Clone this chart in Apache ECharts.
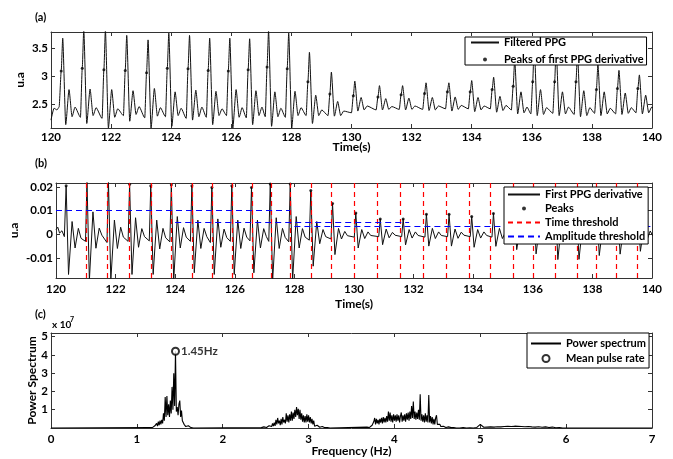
<!DOCTYPE html>
<html>
<head>
<meta charset="utf-8">
<script src="https://cdn.jsdelivr.net/npm/echarts@6/dist/echarts.min.js"></script>
<style>
  html, body { margin: 0; padding: 0; background: #fff; }
  #chart { width: 673px; height: 459px; }
</style>
</head>
<body>
<div id="chart"></div>
<script>
// ---------- (a) filtered PPG, one entry per beat ----------
// time of the first-derivative peak of each beat (s)
const beatTimes = [120.34, 121.04, 121.76, 122.47, 123.18, 123.87, 124.56, 125.23, 125.90, 126.56,
  127.19, 127.86, 128.55, 129.28, 130.06, 130.88, 131.65, 132.43, 133.19, 133.95,
  134.68, 135.38, 136.03, 136.76, 137.47, 138.15, 138.85, 139.53];
const ppgLead = [[120, 2.22], [120.1, 2.43], [120.2, 2.4], [120.27, 2.45]];
const ppgDot = [3.09, 3.14, 3.11, 3.1, 3.06, 3.14, 3.13, 3.1, 3.09, 3.11, 3.16, 3.13, 2.9, 2.68,
  2.65, 2.63, 2.67, 2.69, 2.72, 2.72, 2.76, 2.82, 2.9, 2.9, 2.9, 2.76, 2.78, 2.78];
const ppgPeak = [3.67, 3.82, 3.82, 3.72, 3.64, 3.76, 3.72, 3.67, 3.67, 3.66, 3.8, 3.76, 3.42, 3.07,
  2.91, 2.83, 2.83, 2.88, 2.88, 2.92, 2.98, 3.29, 3.55, 3.5, 3.4, 3.2, 3.1, 3.02];
const ppgDip = [2.14, 2.16, 2.08, 2.2, 2.08, 2.11, 2.22, 2.14, 2.08, 2.14, 2.11, 2.08, 2.16, 2.29,
  2.38, 2.4, 2.4, 2.39, 2.38, 2.37, 2.36, 2.33, 2.3, 2.3, 2.28, 2.3, 2.32, 2.33];
const ppgSecond = [2.76, 2.77, 2.76, 2.74, 2.78, 2.72, 2.75, 2.73, 2.76, 2.74, 2.72, 2.73, 2.66, 2.55,
  2.62, 2.6, 2.61, 2.62, 2.63, 2.62, 2.64, 2.72, 2.76, 2.72, 2.74, 2.72, 2.7, 2.66];
const ppgNotch = [2.28, 2.3, 2.27, 2.32, 2.29, 2.3, 2.28, 2.3, 2.27, 2.3, 2.28, 2.3, 2.3, 2.3,
  2.4, 2.41, 2.41, 2.4, 2.41, 2.4, 2.39, 2.35, 2.32, 2.33, 2.3, 2.33, 2.34, 2.35];
const ppgBump = [2.45, 2.44, 2.42, 2.46, 2.44, 2.43, 2.45, 2.42, 2.44, 2.45, 2.43, 2.44, 2.4, 2.38,
  2.47, 2.46, 2.47, 2.47, 2.48, 2.47, 2.48, 2.45, 2.44, 2.45, 2.44, 2.43, 2.44, 2.45];
const ppgFoot = [2.27, 2.25, 2.3, 2.26, 2.28, 2.25, 2.27, 2.3, 2.26, 2.28, 2.27, 2.3, 2.3, 2.35,
  2.4, 2.41, 2.41, 2.42, 2.42, 2.42, 2.4, 2.33, 2.34, 2.32, 2.34, 2.33, 2.35, 2.38];
const ppgTicks = [2.5, 3, 3.5];

// ---------- (b) first PPG derivative ----------
const derLead = [[120, 0.002], [120.06, 0.003], [120.12, 0.0005], [120.2, 0.0015], [120.28, -0.001]];
const derPeak = [0.0205, 0.0225, 0.0225, 0.0212, 0.0205, 0.021, 0.0205, 0.0198, 0.0205, 0.0198,
  0.0213, 0.0213, 0.0185, 0.013, 0.009, 0.0065, 0.0065, 0.0085, 0.0085, 0.0075, 0.0088,
  0.011, 0.014, 0.013, 0.012, 0.011, 0.0095, 0.009];
const derTrough = [-0.017, -0.0195, -0.0195, -0.017, -0.017, -0.0195, -0.0163, -0.017, -0.017, -0.0163,
  -0.0195, -0.0195, -0.0135, -0.0086, -0.0058, -0.0044, -0.0045, -0.005, -0.005, -0.0055, -0.0051,
  -0.0065, -0.0083, -0.0107, -0.0106, -0.009, -0.0084, -0.0072];
const derRebound = [0.0054, 0.0095, 0.006, 0.007, 0.006, 0.0075, 0.006, 0.0065, 0.006, 0.006, 0.007,
  0.0075, 0.0054, 0.0025, 0.002, 0.0022, 0.002, 0.0025, 0.0022, 0.002, 0.0025, 0.003, 0.0035,
  0.004, 0.0038, 0.0035, 0.003, 0.003];
const derDip = [-0.0058, -0.0059, -0.006, -0.0055, -0.0062, -0.0058, -0.006, -0.0055, -0.006, -0.0058,
  -0.006, -0.0058, -0.004, -0.002, -0.0018, -0.0015, -0.0016, -0.0018, -0.0017, -0.0016, -0.0018,
  -0.0025, -0.003, -0.0032, -0.003, -0.003, -0.0028, -0.0025];
const derWiggle = [0.0025, 0.0026, 0.003, 0.0024, 0.0025, 0.0028, 0.0025, 0.0022, 0.0026, 0.0024,
  0.0025, 0.0024, 0.002, 0.0012, 0.001, 0.0008, 0.001, 0.001, 0.0009, 0.001, 0.0011, 0.0015,
  0.0016, 0.0018, 0.0017, 0.0016, 0.0015, 0.0014];
const derLate = [-0.0017, -0.0004, -0.0012, -0.001, -0.0015, -0.0012, -0.001, -0.0014, -0.0012, -0.001,
  -0.0013, -0.0012, -0.001, -0.0006, -0.0005, -0.0004, -0.0005, -0.0005, -0.0004, -0.0005, -0.0006,
  -0.0008, -0.001, -0.001, -0.0009, -0.0008, -0.0008, -0.0007];
const derPre = [-0.003, -0.0035, -0.003, -0.0028, -0.0032, -0.003, -0.0035, -0.003, -0.0028, -0.003,
  -0.0032, -0.0025, -0.002, -0.0012, -0.001, -0.001, -0.0012, -0.001, -0.001, -0.0012, -0.0015,
  -0.002, -0.0022, -0.002, -0.002, -0.0018, -0.0018, -0.0015];
const timeThreshold = [121.03, 121.71, 122.45, 123.18, 123.87, 124.56, 125.25, 125.92, 126.58, 127.22,
  127.86, 128.55, 129.25, 130.02, 130.78, 131.55, 132.31, 133.11, 133.87, 134.57, 135.34,
  136.02, 136.77, 137.5, 138.14, 138.8, 139.51];
const ampStart = [120, 124.0, 128.0];
const ampEnd = [127.86, 131.85, 140];
const ampLevel = [0.0101, 0.005, 0.0033];
const derTicks = [-0.01, 0, 0.01, 0.02];

// ---------- (c) power spectrum (x 10^7) ----------
const specStep = 0.01;
const spec1Start = 1.15;
const spec1 = [0.03, 0.01, 0.05, 0.02, 0.08, 0.03, 0.12, 0.05, 0.25, 0.1, 0.35, 0.15, 0.4, 0.2, 0.45,
  0.25, 0.8, 0.4, 1.7, 0.6, 1.75, 0.7, 1.3, 0.6, 1.5, 0.8, 2.25, 1.0, 3.0, 1.2, 4.2, 0.9, 1.15, 0.7,
  1.3, 1.5, 0.6, 0.95, 0.4, 0.5, 0.2, 0.2, 0.08, 0.15, 0.05, 0.12, 0.04, 0.08, 0.02, 0.05, 0.01, 0];
const spec2Start = 2.45;
const spec2 = [0.02, 0.04, 0.02, 0.06, 0.03, 0.08, 0.03, 0.1, 0.04, 0.12, 0.05, 0.2, 0.08, 0.25, 0.1,
  0.3, 0.12, 0.45, 0.2, 0.55, 0.25, 0.4, 0.15, 0.5, 0.2, 0.6, 0.3, 0.45, 0.25, 0.8, 0.35, 0.7, 0.3,
  0.75, 0.4, 0.9, 0.4, 0.85, 0.5, 1.0, 0.6, 1.15, 0.7, 1.05, 0.5, 1.0, 0.45, 0.8, 0.35, 0.7, 0.3,
  0.65, 0.3, 0.75, 0.35, 0.7, 0.3, 0.6, 0.25, 0.5, 0.2, 0.4, 0.1, 0.2, 0.08, 0.15, 0.05, 0.12, 0.04,
  0.1, 0.03, 0.08, 0.02, 0.06, 0.02, 0.05, 0.01, 0.03, 0.01, 0.02, 0];
const spec3Start = 3.68;
const spec3 = [0.05, 0.02, 0.08, 0.03, 0.1, 0.04, 0.15, 0.06, 0.35, 0.55, 0.2, 0.5, 0.25, 0.45, 0.2,
  0.5, 0.3, 0.55, 0.25, 0.6, 0.3, 0.55, 0.3, 0.65, 0.35, 0.9, 0.4, 0.85, 0.35, 0.7, 0.3, 0.75, 0.4,
  0.7, 0.35, 0.75, 0.4, 0.7, 0.3, 0.65, 0.85, 0.35, 0.7, 0.4, 0.75, 0.35, 0.8, 0.45, 0.85, 0.4, 0.9,
  0.5, 1.2, 0.55, 1.45, 0.5, 0.9, 0.45, 0.85, 0.5, 1.0, 0.45, 1.85, 0.4, 0.75, 0.35, 0.7, 0.3, 0.8,
  0.35, 0.7, 0.3, 1.8, 0.3, 0.65, 0.25, 0.6, 0.2, 0.5, 0.2, 0.55, 0.7, 0.2, 0.3, 0.1, 0.2, 0.08, 0.15,
  0.05, 0.1, 0.04, 0.08, 0.03, 0.07, 0.03, 0.06, 0.02, 0.05, 0.02, 0.04, 0.01, 0.03, 0.01, 0.02, 0];
const specTailStart = 4.76;
const specTailStep = 0.04;
const specTail = [0, 0.02, 0, 0.01, 0, 0.03, 0.2, 0.04, 0.05, 0.06, 0.05, 0.07, 0.06, 0.08, 0.1, 0.08,
  0.1, 0.09, 0.08, 0.07, 0.08, 0.06, 0.05, 0.07, 0.04, 0.06, 0.03, 0.05, 0.01, 0.02, 0, 0];
const meanRate = [1.45, 4.2];
const specTicks = [1, 2, 3, 4, 5];

// ---------- build point lists ----------
const ppgData = ppgLead.slice();
const derData = derLead.slice();
beatTimes.forEach((t, i) => {
  const next = i + 1 < beatTimes.length ? beatTimes[i + 1] : t + 0.7;
  ppgData.push([t, ppgDot[i]], [t + 0.05, ppgPeak[i]], [t + 0.15, ppgDip[i]],
    [t + 0.26, ppgSecond[i]], [t + 0.36, ppgNotch[i]], [t + 0.46, ppgBump[i]], [next - 0.06, ppgFoot[i]]);
  derData.push([t, derPeak[i]], [t + 0.08, derTrough[i]], [t + 0.2, derRebound[i]],
    [t + 0.3, derDip[i]], [t + 0.41, derWiggle[i]], [t + 0.5, derLate[i]], [next - 0.05, derPre[i]]);
});
const specData = [[0, 0]];
[[spec1Start, spec1], [spec2Start, spec2], [spec3Start, spec3]].forEach(([f0, vals]) => {
  vals.forEach((v, i) => specData.push([f0 + i * specStep, v]));
});
specTail.forEach((v, i) => specData.push([specTailStart + i * specTailStep, v]));
specData.push([7, 0]);

// ---------- chart ----------
const FONT = 'Lato, "DejaVu Sans", sans-serif';
const tickLabel = { fontFamily: FONT, fontSize: 11.5, fontWeight: 'bold', color: '#000' };
const frame = { show: true, onZero: false, lineStyle: { color: '#333', width: 1 } };
const tick = { show: true, inside: true, length: 4, lineStyle: { color: '#333' } };

function xPair(gi, min, max, interval, name, nameGap, margin) {
  const base = { gridIndex: gi, type: 'value', min, max, interval, axisLine: frame, axisTick: tick,
    splitLine: { show: false } };
  return [
    Object.assign({}, base, { position: 'bottom', name, nameLocation: 'middle', nameGap,
      nameMoveOverlap: false,
      nameTextStyle: Object.assign({}, tickLabel, { fontSize: 12 }),
      axisLabel: Object.assign({ margin }, tickLabel) }),
    Object.assign({}, base, { position: 'top', axisLabel: { show: false } })
  ];
}
function yPair(gi, min, max, ticks, name, nameGap) {
  const base = { gridIndex: gi, type: 'value', min, max, axisLine: frame,
    axisTick: Object.assign({ customValues: ticks }, tick), splitLine: { show: false } };
  return [
    Object.assign({}, base, { position: 'left', name, nameLocation: 'middle', nameGap,
      nameMoveOverlap: false,
      nameTextStyle: Object.assign({}, tickLabel, { fontSize: 12 }),
      axisLabel: Object.assign({ margin: 3, customValues: ticks }, tickLabel) }),
    Object.assign({}, base, { position: 'right', axisLabel: { show: false } })
  ];
}
const legendBase = {
  orient: 'vertical', backgroundColor: '#fff', borderColor: '#000', borderWidth: 1, borderRadius: 0,
  selectedMode: false, itemHeight: 4, z: 10,
  textStyle: { fontFamily: FONT, fontSize: 11, fontWeight: 'bold', color: '#000' }
};
// line entries: hide the marker that ECharts puts in the middle of a line icon
const lineEntry = name => ({ name, itemStyle: { opacity: 0 } });

const option = {
  animation: false,
  backgroundColor: '#fff',
  grid: [
    { left: 51, top: 32, width: 601, height: 96 },
    { left: 51, top: 183, width: 601, height: 95 },
    { left: 51, top: 333, width: 601, height: 95 }
  ],
  xAxis: [].concat(
    xPair(0, 120, 140, 2, 'Time(s)', 13, 3),
    xPair(1, 120, 140, 2, 'Time(s)', 20, 5),
    xPair(2, 0, 7, 1, 'Frequency (Hz)', 17, 5)
  ),
  yAxis: [].concat(
    yPair(0, 2.08, 3.78, ppgTicks, 'u.a', 25),
    yPair(1, -0.0185, 0.0217, derTicks, 'u.a', 36),
    yPair(2, 0, 5.2, specTicks, 'Power Spectrum', 13)
  ),
  legend: [
    Object.assign({}, legendBase, { left: 465, top: 37, padding: [0, 3, 0, 5], itemGap: 6, itemWidth: 28,
      data: [lineEntry('Filtered PPG'), 'Peaks of first PPG derivative'] }),
    Object.assign({}, legendBase, { left: 504, top: 187, padding: [2, 3, 2, 3], itemGap: 3, itemWidth: 32,
      data: [lineEntry('First PPG derivative'), 'Peaks', lineEntry('Time threshold'), lineEntry('Amplitude threshold')] }),
    Object.assign({}, legendBase, { left: 527, top: 333, padding: [5, 3, 4, 3], itemGap: 4, itemWidth: 30,
      itemHeight: 7, data: [lineEntry('Power spectrum'), 'Mean pulse rate'] })
  ],
  graphic: [
    { type: 'text', left: 35, top: 12, style: { text: '(a)', font: 'bold 11px ' + FONT, fill: '#000' } },
    { type: 'text', left: 35, top: 158, style: { text: '(b)', font: 'bold 11px ' + FONT, fill: '#000' } },
    { type: 'text', left: 35, top: 309, style: { text: '(c)', font: 'bold 11px ' + FONT, fill: '#000' } },
    { type: 'text', left: 52, top: 320, style: { text: 'x 10', font: 'bold 10px ' + FONT, fill: '#000' } },
    { type: 'text', left: 70, top: 316, style: { text: '7', font: 'bold 7px ' + FONT, fill: '#000' } }
  ],
  series: [
    { name: 'Filtered PPG', type: 'line', xAxisIndex: 0, yAxisIndex: 0, data: ppgData, symbol: 'none',
      smooth: 0.2, smoothMonotone: 'x',
      lineStyle: { color: '#111', width: 1 }, itemStyle: { color: '#111' } },
    { name: 'Peaks of first PPG derivative', type: 'scatter', xAxisIndex: 0, yAxisIndex: 0, symbolSize: 3,
      data: beatTimes.map((t, i) => [t, ppgDot[i]]), itemStyle: { color: '#000' }, z: 3 },
    { name: 'First PPG derivative', type: 'line', xAxisIndex: 2, yAxisIndex: 2, data: derData, symbol: 'none',
      lineStyle: { color: '#111', width: 1 }, itemStyle: { color: '#111' } },
    { name: 'Peaks', type: 'scatter', xAxisIndex: 2, yAxisIndex: 2, symbolSize: 3,
      data: beatTimes.map((t, i) => [t, derPeak[i]]), itemStyle: { color: '#000' }, z: 3 },
    { name: 'Time threshold', type: 'line', xAxisIndex: 2, yAxisIndex: 2, data: [], symbol: 'none',
      lineStyle: { color: '#ff0000', width: 1.2, type: [5, 4] }, itemStyle: { color: '#ff0000' },
      markLine: { silent: true, symbol: ['none', 'none'], label: { show: false },
        lineStyle: { color: '#ff0000', width: 1.2, type: [5, 4] },
        data: timeThreshold.map(t => ({ xAxis: t })) } },
    { name: 'Amplitude threshold', type: 'line', xAxisIndex: 2, yAxisIndex: 2, data: [], symbol: 'none',
      lineStyle: { color: '#0000ff', width: 1, type: [6, 4] }, itemStyle: { color: '#0000ff' },
      markLine: { silent: true, symbol: ['none', 'none'], label: { show: false },
        lineStyle: { color: '#0000ff', width: 1, type: [6, 4] },
        data: ampLevel.map((v, i) => [{ coord: [ampStart[i], v] }, { coord: [ampEnd[i], v] }]) } },
    { name: 'Power spectrum', type: 'line', xAxisIndex: 4, yAxisIndex: 4, data: specData, symbol: 'none',
      lineStyle: { color: '#000', width: 1.1 }, itemStyle: { color: '#000' } },
    { name: 'Mean pulse rate', type: 'scatter', xAxisIndex: 4, yAxisIndex: 4, data: [meanRate],
      symbol: 'emptyCircle', symbolSize: 7, itemStyle: { color: '#000', borderColor: '#000', borderWidth: 1 },
      label: { show: true, position: 'right', distance: 1, formatter: () => meanRate[0] + 'Hz',
        fontFamily: FONT, fontSize: 11.5, fontWeight: 'bold', color: '#000' }, z: 3 }
  ]
};

echarts.init(document.getElementById('chart'), null, { renderer: 'canvas' }).setOption(option);
</script>
</body>
</html>
